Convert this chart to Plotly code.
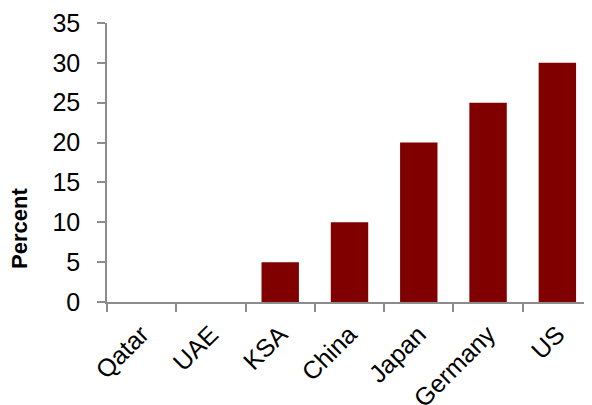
import plotly.graph_objects as go

categories = ["Qatar", "UAE", "KSA", "China", "Japan", "Germany", "US"]
values = [0, 0, 5, 10, 20, 25, 30]
y_ticks = [0, 5, 10, 15, 20, 25, 30, 35]
y_title = "Percent"

fig = go.Figure(go.Bar(
    x=categories, y=values,
    marker=dict(color="#800000", line=dict(width=0)),
))

# page body has an 8px default margin, so the figure is offset by (8, 8)
fig.update_layout(
    width=584, height=397,
    margin=dict(l=99, r=0, t=15, b=103),
    paper_bgcolor="white", plot_bgcolor="white",
    bargap=0.46,
    showlegend=False,
    font=dict(family="Liberation Sans, Arial", color="black"),
)
fig.update_xaxes(
    automargin=False,
    showline=True, linecolor="#8c8c8c", linewidth=1.5,
    ticks="outside", tickson="boundaries", ticklen=8, tickcolor="#8c8c8c", tickwidth=1.5,
    tickangle=-45, tickfont=dict(size=25), showgrid=False,
    ticklabelstandoff=6,
)
fig.update_yaxes(
    automargin=False,
    range=[0, 35], tickvals=y_ticks,
    showline=True, linecolor="#8c8c8c", linewidth=1.5,
    ticks="outside", ticklen=8, tickcolor="#8c8c8c", tickwidth=1.5,
    tickfont=dict(size=25), showgrid=False, zeroline=False,
    ticklabelstandoff=12,
)
fig.add_annotation(
    text="<b>" + y_title + "</b>", textangle=-90,
    xref="paper", yref="paper", x=0, y=0.262, xshift=-87,
    xanchor="center", yanchor="middle", showarrow=False,
    font=dict(size=22, color="black"),
)

fig.write_html("out.html")
